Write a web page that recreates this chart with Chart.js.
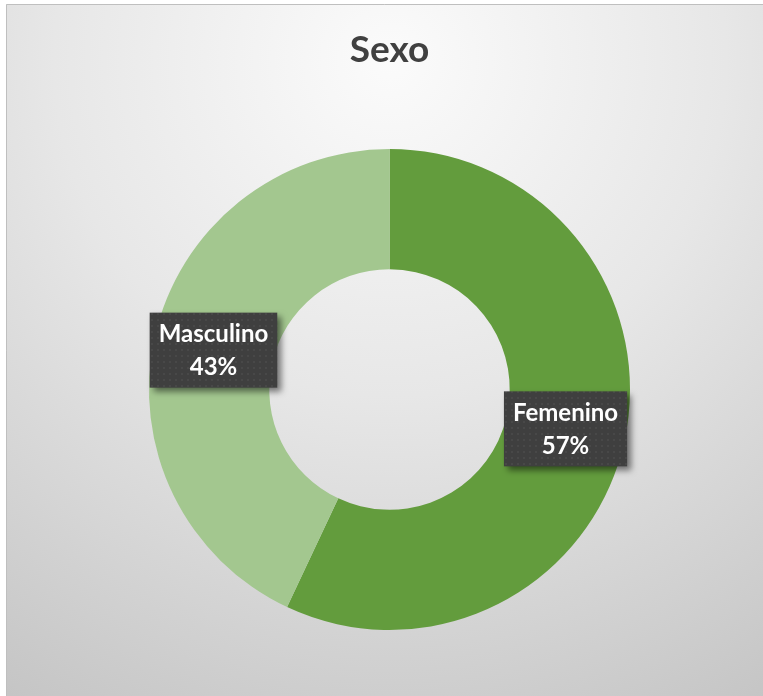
<!DOCTYPE html>
<html>
<head>
<meta charset="utf-8">
<script src="https://cdn.jsdelivr.net/npm/chart.js@4"></script>
<style>
  html, body { margin: 0; padding: 0; background: #fff; }
  #wrap { width: 763px; height: 696px; }
</style>
</head>
<body>
<div id="wrap"><canvas id="chartCanvas" width="763" height="696"></canvas></div>
<script>
"use strict";

const labels = ['Femenino', 'Masculino'];
const values = [57, 43];
const colors = ['#639C3D', '#A3C78F'];
const titleText = 'Sexo';

// background gradient + frame
const background = {
    id: 'background',
    beforeDraw(chart) {
        const c = chart.ctx;
        c.save();
        c.fillStyle = '#fff';
        c.fillRect(0, 0, chart.width, chart.height);
        const g = c.createRadialGradient(390, 60, 0, 390, 60, 800);
        g.addColorStop(0, '#FBFBFB');
        g.addColorStop(0.42, '#E7E7E7');
        g.addColorStop(1, '#C0C0C0');
        c.fillStyle = g;
        c.fillRect(6, 4, chart.width - 6, chart.height - 4);
        c.strokeStyle = '#BFBFBF';
        c.lineWidth = 1;
        c.beginPath();
        c.moveTo(6.5, chart.height);
        c.lineTo(6.5, 4.5);
        c.lineTo(chart.width, 4.5);
        c.stroke();
        c.restore();
    }
};

function dotPattern(c) {
    const p = document.createElement('canvas');
    p.width = 6; p.height = 6;
    const pc = p.getContext('2d');
    pc.fillStyle = '#3F3F3F';
    pc.fillRect(0, 0, 6, 6);
    pc.fillStyle = '#484848';
    pc.fillRect(1, 1, 2, 2);
    return c.createPattern(p, 'repeat');
}

// dark callout boxes at each slice centre
const boxLabels = {
    id: 'boxLabels',
    afterDatasetsDraw(chart) {
        const c = chart.ctx;
        const meta = chart.getDatasetMeta(0);
        const total = values.reduce((a, b) => a + b, 0);
        const pattern = dotPattern(c);
        c.save();
        c.font = 'bold 24px Lato';
        meta.data.forEach((arc, i) => {
            const pos = arc.tooltipPosition();
            const l1 = labels[i];
            const l2 = Math.round(values[i] / total * 100) + '%';
            const w = Math.max(c.measureText(l1).width, c.measureText(l2).width) + 18;
            const h = 75;
            const x = pos.x - w / 2, y = pos.y - h / 2;
            c.save();
            c.shadowColor = 'rgba(0,0,0,0.5)';
            c.shadowBlur = 6;
            c.shadowOffsetX = 4;
            c.shadowOffsetY = 4;
            c.fillStyle = pattern;
            c.fillRect(x, y, w, h);
            c.restore();
            c.fillStyle = '#FFFFFF';
            c.textAlign = 'center';
            c.textBaseline = 'middle';
            c.fillText(l1, pos.x, pos.y - 16);
            c.fillText(l2, pos.x, pos.y + 17);
        });
        c.restore();
    }
};

const ctx = document.getElementById('chartCanvas').getContext('2d');
const chart = new Chart(ctx, {
    type: 'doughnut',
    data: {
        labels: labels,
        datasets: [{
            data: values,
            backgroundColor: colors,
            borderWidth: 0
        }]
    },
    options: {
        responsive: false,
        animation: false,
        cutout: '50%',
        layout: { padding: { left: 149, right: 133, top: 0, bottom: 66 } },
        plugins: {
            legend: { display: false },
            tooltip: { enabled: false },
            title: {
                display: true,
                text: titleText,
                color: '#404040',
                font: { family: 'Lato', size: 37, weight: 'bold', lineHeight: 1.2 },
                padding: { top: 28, bottom: 76.6 }
            }
        }
    },
    plugins: [background, boxLabels]
});
</script>
</body>
</html>
